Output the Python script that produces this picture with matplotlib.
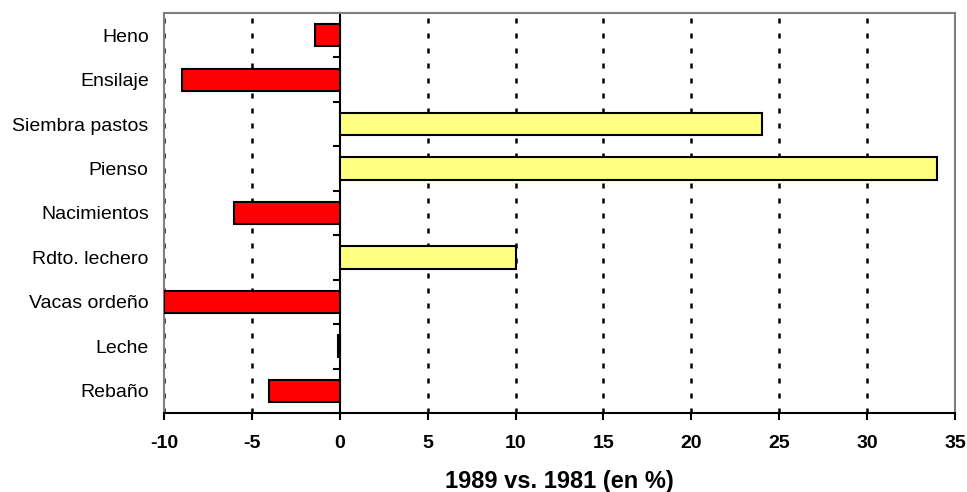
import matplotlib.pyplot as plt
import numpy as np

plt.rcParams['font.family'] = ['Liberation Sans', 'DejaVu Sans']

# categories listed from bottom to top
categorias = ["Rebaño", "Leche", "Vacas ordeño", "Rdto. lechero", "Nacimientos",
              "Pienso", "Siembra pastos", "Ensilaje", "Heno"]
variacion = [-4.0, -0.1, -10.0, 10.0, -6.0, 34.0, 24.0, -9.0, -1.4]
xticks = [-10, -5, 0, 5, 10, 15, 20, 25, 30, 35]

fig = plt.figure(figsize=(9.67, 4.92), dpi=100)
ax = fig.add_axes([0.1696, 0.1606, 0.818, 0.813])

y = np.arange(len(categorias))
colores = ["#FF0000" if v < 0 else "#FFFF80" for v in variacion]
ax.barh(y, variacion, height=0.5, color=colores, edgecolor="black", linewidth=1.5, zorder=3)

ax.set_xlim(-10, 35)
ax.set_ylim(-0.5, len(categorias) - 0.5)

# dotted vertical grid
for xt in xticks:
    if xt == 0:
        continue
    ax.axvline(xt, color="black", lw=1.8, linestyle=(0, (2, 4)), zorder=1)

ax.set_xticks(xticks)
ax.set_xticklabels([str(t) for t in xticks], fontsize=14, fontweight="bold")
ax.tick_params(axis="x", direction="out", length=5, width=1.5, pad=11)
ax.set_xlabel("1989 vs. 1981 (en %)", fontsize=17, fontweight="bold", labelpad=13)

ax.set_yticks(y)
ax.set_yticklabels(categorias, fontsize=14)
ax.tick_params(axis="y", length=0, pad=11)

for s in ["left", "top", "right"]:
    ax.spines[s].set_color("#808080")
    ax.spines[s].set_linewidth(1.5)
ax.spines["bottom"].set_color("black")
ax.spines["bottom"].set_linewidth(1.5)
ax.spines["bottom"].set_zorder(4)

# category axis drawn at x = 0 with ticks between categories
eje0 = ax.secondary_yaxis((0 - xticks[0]) / (xticks[-1] - xticks[0]))
eje0.set_yticks(np.arange(-0.5, len(categorias), 1.0))
eje0.set_yticklabels([])
eje0.tick_params(axis="y", direction="out", length=5, width=1.5)
eje0.spines["left"].set_linewidth(1.5)
eje0.spines["left"].set_color("black")

fig.savefig("out.png", dpi=100)
